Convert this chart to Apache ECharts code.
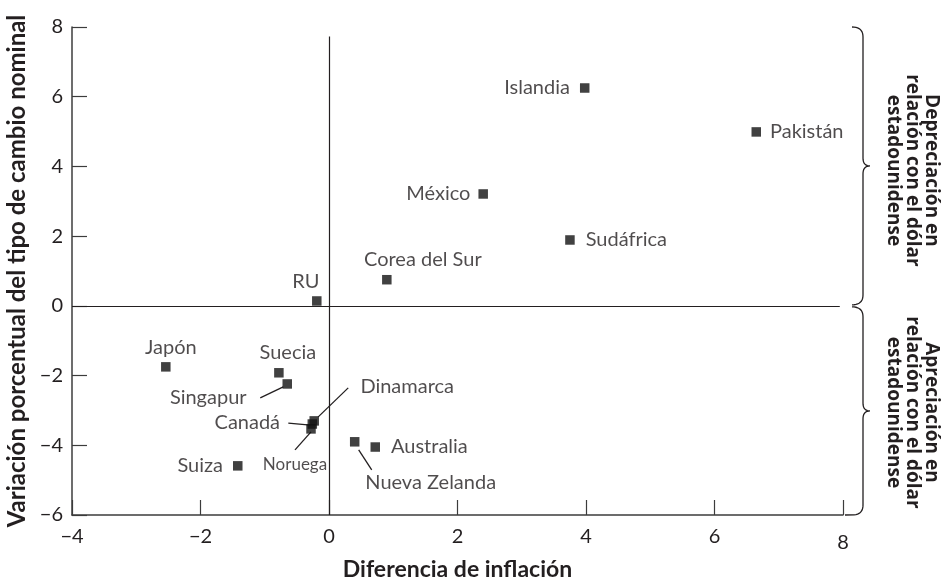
<!DOCTYPE html>
<html>
<head>
<meta charset="utf-8">
<script src="https://cdn.jsdelivr.net/npm/echarts@6/dist/echarts.min.js"></script>
<style>
  html, body { margin: 0; padding: 0; background: #ffffff; }
  #chart { width: 948px; height: 577px; }
</style>
</head>
<body>
<div id="chart"></div>
<script>
// Countries: inflation differential vs. percent change in nominal exchange rate
const countries = ['Islandia', 'Pakistán', 'México', 'Sudáfrica', 'Corea del Sur', 'RU',
  'Japón', 'Suecia', 'Singapur', 'Dinamarca', 'Canadá', 'Noruega', 'Suiza',
  'Nueva Zelanda', 'Australia'];
const inflationDiff = [3.98, 6.65, 2.40, 3.75, 0.90, -0.19,
  -2.54, -0.78, -0.65, -0.23, -0.26, -0.28, -1.42, 0.40, 0.72];
const exchangeChange = [6.25, 4.99, 3.21, 1.89, 0.75, 0.14,
  -1.75, -1.92, -2.24, -3.30, -3.39, -3.53, -4.59, -3.90, -4.05];

const xTicks = [-4, -2, 0, 2, 4, 6, 8];
const yTicks = [-6, -4, -2, 0, 2, 4, 6, 8];

const xTitle = 'Diferencia de inflación';
const yTitle = 'Variación porcentual del tipo de cambio nominal';
const upperNote = ['Depreciación en', 'relación con el dólar', 'estadounidense'];
const lowerNote = ['Apreciación en', 'relación con el dólar', 'estadounidense'];

// Label placement per country (pixels relative to the marker)
const labelPlacement = {
  'Islandia':      { position: 'left',  distance: 10 },
  'Pakistán':      { position: 'right', distance: 9 },
  'México':        { position: 'left',  distance: 8 },
  'Sudáfrica':     { position: 'right', distance: 11 },
  'Corea del Sur': { position: 'inside', offset: [36, -20] },
  'RU':            { position: 'inside', offset: [-11, -19] },
  'Japón':         { position: 'inside', offset: [5, -19] },
  'Suecia':        { position: 'inside', offset: [9, -20] },
  'Singapur':      { position: 'inside', offset: [-79, 14] },
  'Dinamarca':     { position: 'inside', offset: [93, -34] },
  'Canadá':        { position: 'inside', offset: [-65, -1] },
  'Noruega':       { position: 'inside', offset: [-16, 36], fontSize: 17 },
  'Suiza':         { position: 'left',  distance: 10 },
  'Nueva Zelanda': { position: 'inside', offset: [76, 41] },
  'Australia':     { position: 'right', distance: 11 }
};

// Leader lines from marker to a displaced label (pixel offsets from the marker)
const leaders = {
  'Singapur':      [[-4, 3], [-27, 14]],
  'Canadá':        [[-2, 1], [-24, -1]],
  'Dinamarca':     [[4, -4], [34, -33]],
  'Noruega':       [[0, 3], [-16, 21]],
  'Nueva Zelanda': [[4, 8], [17, 28]]
};

const INK = '#231f20';
const AXIS = '#3c3c3c';
const LABEL_FONT = 'Lato, "Open Sans", sans-serif';
const NOTE_FONT = '"Open Sans", Lato, sans-serif';

const minus = v => (v < 0 ? '\u2212' + Math.abs(v) : String(v));

const points = countries.map((name, i) => {
  const p = labelPlacement[name];
  return {
    name,
    value: [inflationDiff[i], exchangeChange[i]],
    label: {
      show: true,
      position: p.position,
      distance: p.distance,
      offset: p.offset,
      fontSize: p.fontSize || 20
    }
  };
});

const leaderData = countries
  .map((name, i) => ({ name, value: [inflationDiff[i], exchangeChange[i]] }))
  .filter(d => leaders[d.name]);

const chart = echarts.init(document.getElementById('chart'), null, { renderer: 'canvas' });

chart.setOption({
  backgroundColor: '#ffffff',
  animation: false,
  grid: { left: 72, right: 105, top: 27, bottom: 62, containLabel: false, outerBoundsMode: 'none' },
  xAxis: {
    type: 'value',
    min: xTicks[0], max: xTicks[xTicks.length - 1], interval: 2,
    name: xTitle,
    nameLocation: 'middle',
    nameGap: 40,
    nameTextStyle: { color: INK, fontSize: 23, fontWeight: 'bold', fontFamily: LABEL_FONT },
    axisLine: { onZero: false, lineStyle: { color: AXIS, width: 1.5 } },
    axisTick: { inside: true, length: 15, lineStyle: { color: AXIS, width: 1.2 } },
    axisLabel: {
      color: INK, fontSize: 20, fontFamily: LABEL_FONT, margin: 12,
      formatter: v => (v === xTicks[xTicks.length - 1] ? '{low|' + minus(v) + '}' : minus(v)),
      rich: { low: { fontSize: 20, fontFamily: LABEL_FONT, color: INK, padding: [6, 0, 0, 0] } }
    },
    splitLine: { show: false }
  },
  yAxis: {
    type: 'value',
    min: yTicks[0], max: yTicks[yTicks.length - 1], interval: 2,
    name: yTitle,
    nameLocation: 'middle',
    nameGap: 42,
    nameTextStyle: { color: INK, fontSize: 24, fontWeight: 'bold', fontFamily: LABEL_FONT },
    axisLine: { onZero: false, lineStyle: { color: AXIS, width: 1.5 } },
    axisTick: { inside: true, length: 15, lineStyle: { color: AXIS, width: 1.2 } },
    axisLabel: { color: INK, fontSize: 20, fontFamily: LABEL_FONT, margin: 9, formatter: minus },
    splitLine: { show: false }
  },
  series: [
    {
      type: 'scatter',
      symbol: 'rect',
      symbolSize: 9.5,
      itemStyle: { color: '#111111' },
      label: {
        show: true,
        formatter: '{b}',
        color: INK,
        fontFamily: LABEL_FONT
      },
      emphasis: { disabled: true },
      data: points,
      markLine: {
        silent: true,
        symbol: 'none',
        label: { show: false },
        lineStyle: { color: INK, width: 1.2, type: 'solid' },
        data: [
          [{ coord: [0, yTicks[0]] }, { coord: [0, 7.73] }],
          [{ coord: [xTicks[0], 0] }, { coord: [7.95, 0] }]
        ]
      },
      z: 3
    },
    {
      type: 'custom',
      silent: true,
      data: leaderData,
      z: 2,
      renderItem: (params, api) => {
        const c = api.coord([api.value(0), api.value(1)]);
        const seg = leaders[leaderData[params.dataIndex].name];
        return {
          type: 'line',
          shape: {
            x1: c[0] + seg[0][0], y1: c[1] + seg[0][1],
            x2: c[0] + seg[1][0], y2: c[1] + seg[1][1]
          },
          style: { stroke: INK, lineWidth: 1.3 }
        };
      }
    }
  ]
});

// Curly braces and notes on the right-hand side
function quad(p0, p1, p2, out) {
  for (let k = 1; k <= 10; k++) {
    const t = k / 10, u = 1 - t;
    out.push([u * u * p0[0] + 2 * u * t * p1[0] + t * t * p2[0],
              u * u * p0[1] + 2 * u * t * p1[1] + t * t * p2[1]]);
  }
}

function bracePoints(xEnd, xBody, xTip, y1, y2) {
  const ym = (y1 + y2) / 2;
  const r = 10, q = 8;
  const pts = [[xEnd, y1]];
  quad([xEnd, y1], [xBody, y1], [xBody, y1 + r], pts);
  pts.push([xBody, ym - q]);
  quad([xBody, ym - q], [xBody, ym], [xTip, ym], pts);
  quad([xTip, ym], [xBody, ym], [xBody, ym + q], pts);
  pts.push([xBody, y2 - r]);
  quad([xBody, y2 - r], [xBody, y2], [xEnd, y2], pts);
  return pts;
}

function drawNotes() {
  const last = xTicks[xTicks.length - 1];
  const topRight = chart.convertToPixel({ gridIndex: 0 }, [last, yTicks[yTicks.length - 1]]);
  const zeroRight = chart.convertToPixel({ gridIndex: 0 }, [last, 0]);
  const botRight = chart.convertToPixel({ gridIndex: 0 }, [last, yTicks[0]]);
  const gx = topRight[0];
  const upper = bracePoints(gx + 9, gx + 20, gx + 27, topRight[1], zeroRight[1] - 1);
  const lower = bracePoints(gx + 9, gx + 20, gx + 27, zeroRight[1] + 1, botRight[1]);
  lower[lower.length - 1][0] = gx + 2;
  const noteStyle = {
    fill: INK, fontSize: 19, fontWeight: 'bold', fontFamily: NOTE_FONT,
    align: 'center', verticalAlign: 'middle', lineHeight: 19
  };
  chart.setOption({
    graphic: [
      { type: 'polyline', shape: { points: upper }, style: { stroke: INK, lineWidth: 1.3, fill: null }, silent: true },
      { type: 'polyline', shape: { points: lower }, style: { stroke: INK, lineWidth: 1.3, fill: null }, silent: true },
      {
        type: 'text', x: gx + 69, y: (topRight[1] + zeroRight[1]) / 2 + 4, rotation: -Math.PI / 2,
        style: Object.assign({ text: upperNote.join('\n') }, noteStyle), silent: true
      },
      {
        type: 'text', x: gx + 69, y: (zeroRight[1] + botRight[1]) / 2 + 2, rotation: -Math.PI / 2,
        style: Object.assign({ text: lowerNote.join('\n') }, noteStyle), silent: true
      }
    ]
  });
}
drawNotes();
</script>
</body>
</html>
